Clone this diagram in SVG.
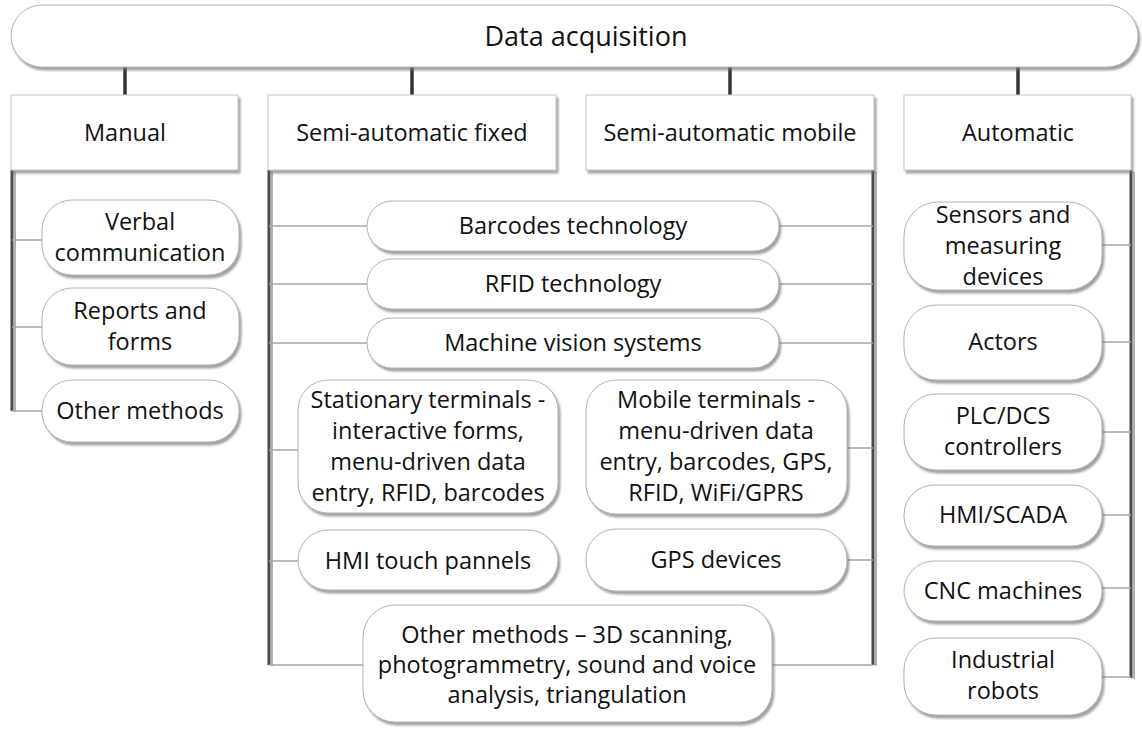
<svg xmlns="http://www.w3.org/2000/svg" width="1142" height="729" viewBox="0 0 1142 729">
<defs>
<filter id="sh" x="-5%" y="-10%" width="115%" height="130%">
<feDropShadow dx="2" dy="3" stdDeviation="1.2" flood-color="#6e6e6e" flood-opacity="0.65"/>
</filter>
</defs>
<style>
.pill{fill:#fff;stroke:#b3b3b3;stroke-width:1;filter:url(#sh)}
.hdr{fill:#fff;stroke:#c4c4c4;stroke-width:1;filter:url(#sh)}
.vl{stroke:#4a4a4a;stroke-width:3;fill:none}
.vs{stroke:#b0b0b0;stroke-width:2;fill:none}
.stub{stroke:#333;stroke-width:3.5;fill:none}
.hl{stroke:#a6a6a6;stroke-width:1.5;fill:none}
text{font-family:"Open Sans","Liberation Sans",sans-serif;font-size:23.5px;fill:#111;text-anchor:middle}
.title{font-size:27px}
</style>

<g id="connectors">
<line class="stub" x1="125" y1="64" x2="125" y2="96"/>
<line class="stub" x1="412" y1="64" x2="412" y2="96"/>
<line class="stub" x1="730" y1="64" x2="730" y2="96"/>
<line class="stub" x1="1018" y1="64" x2="1018" y2="96"/>
<line class="vs" x1="15" y1="172" x2="15" y2="412"/>
<line class="vl" x1="12" y1="170" x2="12" y2="411"/>
<line class="vs" x1="272" y1="172" x2="272" y2="666"/>
<line class="vl" x1="269" y1="170" x2="269" y2="665"/>
<line class="vs" x1="876" y1="172" x2="876" y2="666"/>
<line class="vl" x1="873" y1="170" x2="873" y2="665"/>
<line class="vs" x1="1134" y1="172" x2="1134" y2="679"/>
<line class="vl" x1="1131" y1="170" x2="1131" y2="678"/>
<line class="hl" x1="12" y1="240" x2="42" y2="240"/>
<line class="hl" x1="12" y1="327" x2="42" y2="327"/>
<line class="hl" x1="12" y1="411" x2="42" y2="411"/>
<line class="hl" x1="269" y1="226" x2="367" y2="226"/>
<line class="hl" x1="269" y1="284" x2="367" y2="284"/>
<line class="hl" x1="269" y1="343" x2="367" y2="343"/>
<line class="hl" x1="269" y1="450" x2="298" y2="450"/>
<line class="hl" x1="269" y1="561" x2="298" y2="561"/>
<line class="hl" x1="269" y1="665" x2="363" y2="665"/>
<line class="hl" x1="779" y1="226" x2="873" y2="226"/>
<line class="hl" x1="779" y1="284" x2="873" y2="284"/>
<line class="hl" x1="779" y1="343" x2="873" y2="343"/>
<line class="hl" x1="847" y1="448" x2="873" y2="448"/>
<line class="hl" x1="847" y1="560" x2="873" y2="560"/>
<line class="hl" x1="772" y1="665" x2="873" y2="665"/>
<line class="hl" x1="1102" y1="245" x2="1131" y2="245"/>
<line class="hl" x1="1102" y1="342" x2="1131" y2="342"/>
<line class="hl" x1="1102" y1="432" x2="1131" y2="432"/>
<line class="hl" x1="1102" y1="515" x2="1131" y2="515"/>
<line class="hl" x1="1102" y1="588" x2="1131" y2="588"/>
<line class="hl" x1="1102" y1="677" x2="1131" y2="677"/>
</g>

<g id="root">
<rect class="pill" x="11" y="5" width="1127" height="62" rx="31"/>
<text class="title" x="586" y="46">Data acquisition</text>
</g>

<g id="h-manual"><rect class="hdr" x="11" y="95" width="227" height="75"/><text x="125" y="141">Manual</text></g>
<g id="h-fixed"><rect class="hdr" x="268" y="95" width="288" height="75"/><text x="412" y="141">Semi-automatic fixed</text></g>
<g id="h-mobile"><rect class="hdr" x="586" y="95" width="288" height="75"/><text x="730" y="141">Semi-automatic mobile</text></g>
<g id="h-auto"><rect class="hdr" x="904" y="95" width="227" height="75"/><text x="1018" y="141">Automatic</text></g>

<g id="verbal"><rect class="pill" x="42" y="200" width="197" height="75" rx="30"/><text x="140" y="230">Verbal</text><text x="140" y="261">communication</text></g>
<g id="reports"><rect class="pill" x="42" y="288" width="197" height="77" rx="30"/><text x="140" y="319">Reports and</text><text x="140" y="350">forms</text></g>
<g id="other-manual"><rect class="pill" x="42" y="380" width="197" height="62" rx="30"/><text x="140" y="419">Other methods</text></g>

<g id="barcodes"><rect class="pill" x="367" y="201" width="412" height="50" rx="25"/><text x="573" y="234">Barcodes technology</text></g>
<g id="rfid"><rect class="pill" x="367" y="259" width="412" height="50" rx="25"/><text x="573" y="292">RFID technology</text></g>
<g id="vision"><rect class="pill" x="367" y="318" width="412" height="50" rx="25"/><text x="573" y="351">Machine vision systems</text></g>

<g id="stationary"><rect class="pill" x="298" y="380" width="260" height="133" rx="30"/>
<text x="428" y="408">Stationary terminals -</text><text x="428" y="439">interactive forms,</text><text x="428" y="470">menu-driven data</text><text x="428" y="501">entry, RFID, barcodes</text></g>
<g id="mobile"><rect class="pill" x="586" y="380" width="261" height="134" rx="30"/>
<text x="716" y="408">Mobile terminals -</text><text x="716" y="439">menu-driven data</text><text x="716" y="470">entry, barcodes, GPS,</text><text x="716" y="501">RFID, WiFi/GPRS</text></g>
<g id="hmi-touch"><rect class="pill" x="298" y="530" width="260" height="60" rx="30"/><text x="428" y="569">HMI touch pannels</text></g>
<g id="gps"><rect class="pill" x="586" y="529" width="261" height="62" rx="30"/><text x="716" y="568">GPS devices</text></g>
<g id="other-semi"><rect class="pill" x="363" y="605" width="409" height="117" rx="32"/>
<text x="567" y="643">Other methods – 3D scanning,</text><text x="567" y="673">photogrammetry, sound and voice</text><text x="567" y="703">analysis, triangulation</text></g>

<g id="sensors"><rect class="pill" x="904" y="202" width="198" height="88" rx="34"/><text x="1003" y="223">Sensors and</text><text x="1003" y="254">measuring</text><text x="1003" y="285">devices</text></g>
<g id="actors"><rect class="pill" x="904" y="305" width="198" height="75" rx="32"/><text x="1003" y="350">Actors</text></g>
<g id="plc"><rect class="pill" x="904" y="394" width="198" height="76" rx="32"/><text x="1003" y="424">PLC/DCS</text><text x="1003" y="455">controllers</text></g>
<g id="hmi-scada"><rect class="pill" x="904" y="485" width="198" height="61" rx="30"/><text x="1003" y="523">HMI/SCADA</text></g>
<g id="cnc"><rect class="pill" x="904" y="561" width="198" height="60" rx="30"/><text x="1003" y="599">CNC machines</text></g>
<g id="robots"><rect class="pill" x="904" y="638" width="198" height="77" rx="32"/><text x="1003" y="668">Industrial</text><text x="1003" y="699">robots</text></g>
</svg>
